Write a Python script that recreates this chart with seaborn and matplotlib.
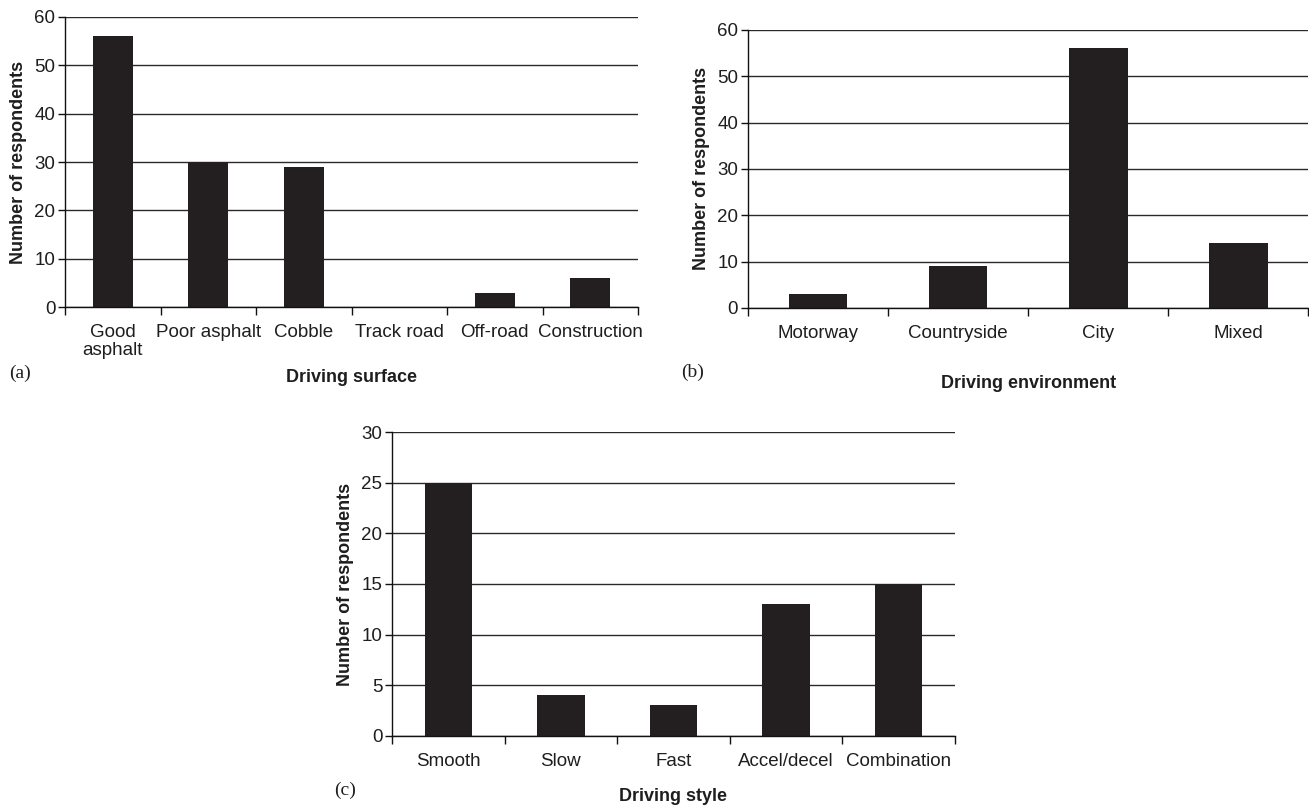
import matplotlib
matplotlib.use("Agg")
import matplotlib.pyplot as plt
import seaborn as sns
import pandas as pd
import numpy as np

# data
surface_labels = ["Good\nasphalt", "Poor asphalt", "Cobble", "Track road", "Off-road", "Construction"]
surface_counts = [56, 30, 29, 0, 3, 6]

env_labels = ["Motorway", "Countryside", "City", "Mixed"]
env_counts = [3, 9, 56, 14]

style_labels = ["Smooth", "Slow", "Fast", "Accel/decel", "Combination"]
style_counts = [25, 4, 3, 13, 15]

sns.set_theme(style="white")
plt.rcParams["font.family"] = ["Liberation Sans", "DejaVu Sans"]

BAR = "#231f20"
TICK_FONT = ["Liberation Sans", "DejaVu Sans"]
LABEL_FONT = ["Liberation Sans", "DejaVu Sans"]


def draw_panel(ax, labels, counts, ymax, ystep, xlabel, xpad):
    df = pd.DataFrame({"cat": labels, "n": counts})
    sns.barplot(data=df, x="cat", y="n", color=BAR, width=0.42,
                saturation=1, edgecolor=BAR, linewidth=0, ax=ax)
    n = len(labels)
    ax.set_xlim(-0.5, n - 0.5)
    ax.set_ylim(0, ymax)
    ax.set_yticks(np.arange(0, ymax + 1, ystep))
    ax.yaxis.grid(True, color="#2a2a2a", linewidth=1.0)
    ax.set_axisbelow(True)
    for s in ["top", "right"]:
        ax.spines[s].set_visible(False)
    for s in ["left", "bottom"]:
        ax.spines[s].set_color("#111111")
        ax.spines[s].set_linewidth(1.0)
    # ticks between categories, labels centred
    ax.set_xticks(np.arange(-0.5, n, 1.0), minor=True)
    ax.tick_params(axis="x", which="minor", length=6, width=1, color="#111111", bottom=True, direction="out")
    ax.tick_params(axis="x", which="major", length=0, pad=12)
    ax.tick_params(axis="y", which="major", length=5, width=1, color="#111111", left=True, direction="out", pad=2)
    ax.set_xticks(range(n))
    ax.set_xticklabels(labels, fontsize=13.5, family=TICK_FONT, color="#1e1e1e", linespacing=1.1)
    for t in ax.get_yticklabels():
        t.set_fontsize(13.5)
        t.set_family(TICK_FONT)
        t.set_color("#1e1e1e")
    ax.set_xlabel(xlabel, fontsize=13, fontweight="bold", family=LABEL_FONT, labelpad=xpad, color="#1e1e1e")
    ax.set_ylabel("Number of respondents", fontsize=13, fontweight="bold", family=LABEL_FONT,
                  labelpad=5, color="#1e1e1e")


fig = plt.figure(figsize=(13.09, 8.06), dpi=100)
ax_a = fig.add_axes([0.0497, 0.619, 0.4377, 0.360])
ax_b = fig.add_axes([0.5714, 0.618, 0.4280, 0.345])
ax_c = fig.add_axes([0.2995, 0.087, 0.4300, 0.377])

draw_panel(ax_a, surface_labels, surface_counts, 60, 10, "Driving surface", 7)
draw_panel(ax_b, env_labels, env_counts, 60, 10, "Driving environment", 24)
draw_panel(ax_c, style_labels, style_counts, 30, 5, "Driving style", 13)

# panel letters
for txt, x, y in [("(a)", 0.0153, 0.537), ("(b)", 0.5294, 0.5385), ("(c)", 0.2636, 0.020)]:
    fig.text(x, y, txt, fontsize=14, ha="center", va="center",
             family=["Liberation Serif", "DejaVu Serif"], color="#1e1e1e")

fig.savefig("out.png", dpi=100, facecolor="white")
